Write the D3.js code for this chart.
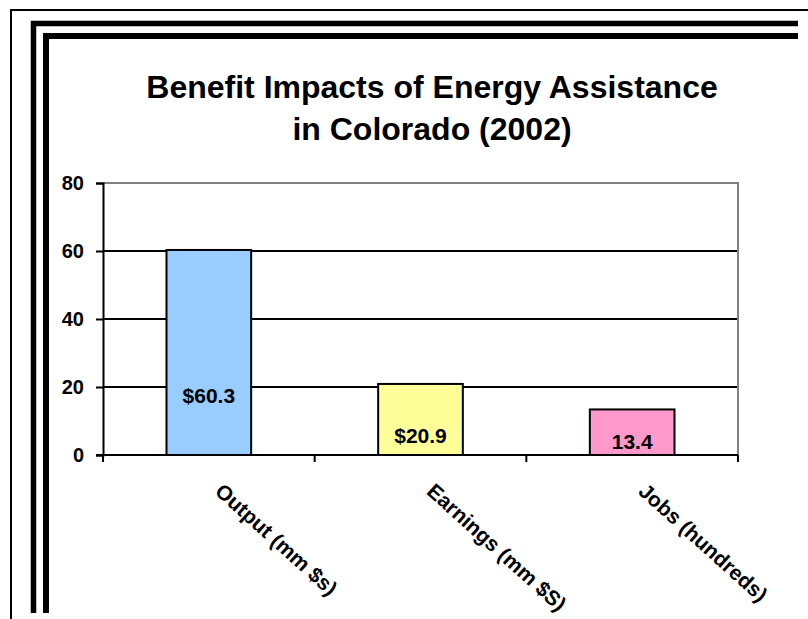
<!DOCTYPE html>
<html>
<head>
<meta charset="utf-8">
<script src="https://cdn.jsdelivr.net/npm/d3@7.9.0/dist/d3.min.js"></script>
<style>
  body { margin: 0; background: #fff; }
  svg { display: block; font-family: Arial, 'Liberation Sans', sans-serif; }
</style>
</head>
<body>
<svg id="chart" width="808" height="619"></svg>
<script>
const categories = ['Output (mm $s)', 'Earnings (mm $S)', 'Jobs (hundreds)'];
const values = [60.3, 20.9, 13.4];
const valueLabels = ['$60.3', '$20.9', '13.4'];
// where each value label sits, in axis units
const labelAt = [15.3, 3.5, 1.8];
const barColors = ['#99CCFF', '#FFFF99', '#FF99CC'];
const yTicks = [0, 20, 40, 60, 80];
const titleLines = ['Benefit Impacts of Energy Assistance', 'in Colorado (2002)'];

const svg = d3.select('#chart');

// frame lines
svg.append('path').attr('d', 'M11,619V10H808').attr('fill', 'none')
   .attr('stroke', '#000').attr('stroke-width', 2);
svg.append('path').attr('d', 'M33.5,613V23.5H798').attr('fill', 'none')
   .attr('stroke', '#000').attr('stroke-width', 5.5);
svg.append('path').attr('d', 'M46,613V36H798').attr('fill', 'none')
   .attr('stroke', '#000').attr('stroke-width', 6);

const title = svg.append('text')
  .attr('x', 432).attr('text-anchor', 'middle')
  .attr('font-size', 32).attr('font-weight', 'bold');
titleLines.forEach((t, i) => {
  title.append('tspan').attr('x', 432).attr('y', 98 + i * 42).text(t);
});

const plotLeft = 103, plotRight = 738, plotTop = 183, plotBottom = 455;

let x = d3.scaleBand().domain(categories).range([plotLeft, plotRight]);
let y = d3.scaleLinear().domain([0, 80]).range([plotBottom, plotTop]);

// gridlines
svg.append('g').selectAll('line')
  .data(yTicks.filter(d => d > 0 && d < 80))
  .join('line')
  .attr('x1', plotLeft).attr('x2', plotRight)
  .attr('y1', d => y(d)).attr('y2', d => y(d))
  .attr('stroke', '#000').attr('stroke-width', 2);

// plot area border (top and right, grey)
svg.append('path')
  .attr('d', `M${plotLeft},${y(80)}H${plotRight}V${y(0)}`)
  .attr('fill', 'none').attr('stroke', '#808080').attr('stroke-width', 2);

// bars
let barW = x.bandwidth() * 0.4;
svg.append('g').selectAll('rect')
  .data(values)
  .join('rect')
  .attr('x', (d, i) => x(categories[i]) + (x.bandwidth() - barW) / 2)
  .attr('y', d => y(d))
  .attr('width', barW)
  .attr('height', d => y(0) - y(d))
  .attr('fill', (d, i) => barColors[i])
  .attr('stroke', '#000').attr('stroke-width', 2);

svg.append('g').selectAll('text')
  .data(valueLabels)
  .join('text')
  .attr('x', (d, i) => x(categories[i]) + x.bandwidth() / 2)
  .attr('y', (d, i) => y(labelAt[i]))
  .attr('text-anchor', 'middle')
  .attr('font-size', 21).attr('font-weight', 'bold')
  .text(d => d);

// y axis
let yAxis = svg.append('g')
  .attr('transform', `translate(${plotLeft},0)`)
  .call(d3.axisLeft(y).tickValues(yTicks).tickSize(7).tickPadding(12));
yAxis.select('.domain').attr('stroke-width', 2);
yAxis.selectAll('.tick line').attr('stroke-width', 2);
yAxis.selectAll('text').attr('font-size', 20).attr('font-weight', 'bold')
  .attr('font-family', null).attr('fill', '#000');

// x axis
let xEdges = categories.map(c => x(c)).concat([x.range()[1]]);
svg.append('line')
  .attr('x1', plotLeft - 7).attr('x2', plotRight)
  .attr('y1', y(0)).attr('y2', y(0))
  .attr('stroke', '#000').attr('stroke-width', 2);
svg.append('g').selectAll('line')
  .data(xEdges)
  .join('line')
  .attr('x1', d => d).attr('x2', d => d)
  .attr('y1', y(0)).attr('y2', y(0) + 7)
  .attr('stroke', '#000').attr('stroke-width', 2);

svg.append('g').selectAll('text')
  .data(categories)
  .join('text')
  .attr('transform', d => `translate(${x(d) + x.bandwidth() / 2 + 5},${y(0) + 38}) rotate(42)`)
  .attr('font-size', 21).attr('font-weight', 'bold')
  .text(d => d);
</script>
</body>
</html>
